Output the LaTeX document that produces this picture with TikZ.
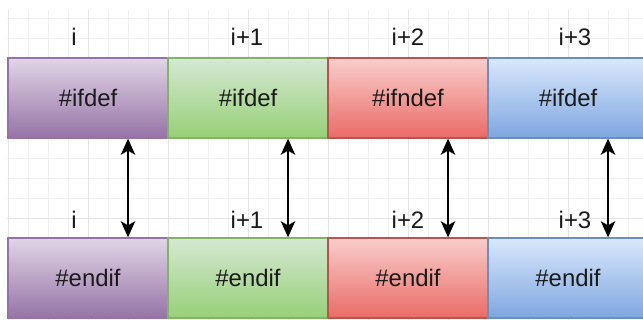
\documentclass[tikz,border=0pt]{standalone}
\usepackage{fontspec}
\setmainfont{Liberation Sans}
\usetikzlibrary{arrows.meta}

\definecolor{purplelite}{HTML}{E1D5E7}
\definecolor{purpledark}{HTML}{9673A6}
\definecolor{greenlite}{HTML}{D5E8D4}
\definecolor{greendark}{HTML}{97D077}
\definecolor{greenline}{HTML}{82B366}
\definecolor{redlite}{HTML}{F8CECC}
\definecolor{reddark}{HTML}{EA6B66}
\definecolor{redline}{HTML}{B85450}
\definecolor{bluelite}{HTML}{DAE8FC}
\definecolor{bluedark}{HTML}{7EA6E0}
\definecolor{blueline}{HTML}{6C8EBF}
\definecolor{textcol}{HTML}{1A1A1A}

\begin{document}
\begin{tikzpicture}[x=0.025cm,y=0.025cm,
  cell/.style={draw,line width=1pt,minimum width=4cm,minimum height=2cm,
    inner sep=0pt,text=textcol,font=\fontsize{17}{20}\selectfont},
  purplecell/.style={cell,draw=purpledark,top color=purplelite,bottom color=purpledark},
  greencell/.style={cell,draw=greenline,top color=greenlite,bottom color=greendark},
  redcell/.style={cell,draw=redline,top color=redlite,bottom color=reddark},
  bluecell/.style={cell,draw=blueline,top color=bluelite,bottom color=bluedark},
  idx/.style={text=textcol,font=\fontsize{17}{20}\selectfont},
  pair/.style={{Stealth[length=0.4cm,width=0.36cm,inset=0.1cm]}-{Stealth[length=0.4cm,width=0.36cm,inset=0.1cm]},
    line width=1.2pt,black}]

\useasboundingbox (0,0) rectangle (643,320);
\fill[white] (0,0) rectangle (643,320);

% background grid
\begin{scope}[shift={(8,22)}]
\draw[black!6,line width=0.5pt,step=20] (-1,-22) grid (635,288);
\draw[black!10,line width=0.6pt,step=80] (-1,-22) grid (635,288);
\end{scope}

% top row
\node[purplecell] (t1) at (88,222) {\#ifdef};
\node[greencell] (t2) at (248,222) {\#ifdef};
\node[redcell] (t3) at (408,222) {\#ifndef};
\node[bluecell] (t4) at (568,222) {\#ifdef};

% bottom row
\node[purplecell] (b1) at (88,42) {\#endif};
\node[greencell] (b2) at (248,42) {\#endif};
\node[redcell] (b3) at (408,42) {\#endif};
\node[bluecell] (b4) at (568,42) {\#endif};

% indices
\node[idx] (ti1) at (74,283) {i};
\node[idx] (ti2) at (247,283) {i+1};
\node[idx] (ti3) at (408,283) {i+2};
\node[idx] (ti4) at (575,283) {i+3};

\node[idx] (bi1) at (74,100) {i};
\node[idx] (bi2) at (247,100) {i+1};
\node[idx] (bi3) at (408,100) {i+2};
\node[idx] (bi4) at (575,100) {i+3};

% matching pairs
\draw[pair] ([xshift=1cm]t1.south) -- ([xshift=1cm]b1.north);
\draw[pair] ([xshift=1cm]t2.south) -- ([xshift=1cm]b2.north);
\draw[pair] ([xshift=1cm]t3.south) -- ([xshift=1cm]b3.north);
\draw[pair] ([xshift=1cm]t4.south) -- ([xshift=1cm]b4.north);

\end{tikzpicture}
\end{document}
